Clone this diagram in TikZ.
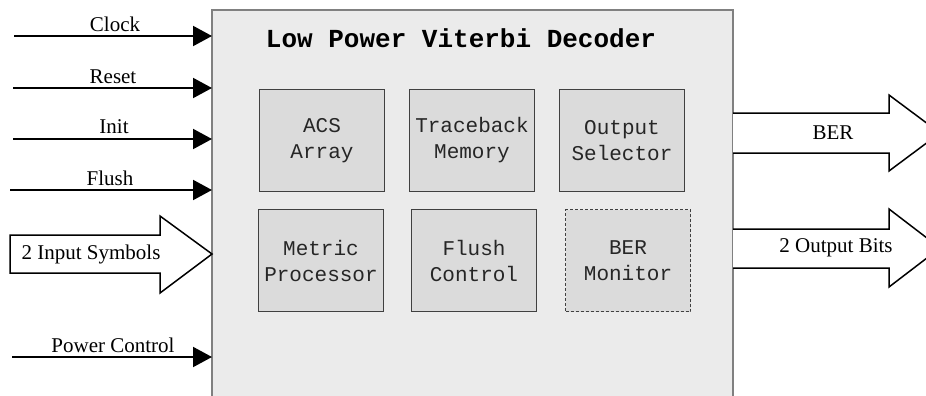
\documentclass[tikz,border=0pt]{standalone}
\usepackage{fontspec}
\setmainfont{Liberation Serif}
\newfontfamily\monofam{Liberation Mono}
\usetikzlibrary{arrows.meta}
\begin{document}
\begin{tikzpicture}[x=1pt,y=-1pt,
 mainbox/.style={draw=black!50, fill=black!8, line width=1.5pt, inner sep=0pt, outer sep=0pt, anchor=north west},
 block/.style={draw=black!75, fill=black!14, line width=1pt, minimum width=125pt, minimum height=102pt, inner sep=0pt, align=center, text=black!85, font=\monofam\fontsize{21}{26}\selectfont, anchor=north west},
 sig/.style={line width=2pt, -{Triangle[length=19pt,width=20pt]}},
 lbl/.style={font=\fontsize{21}{24}\selectfont, anchor=base, inner sep=0pt},
 fat/.style={draw=black, fill=white, line width=1.5pt, line join=miter}
]
\useasboundingbox (0,0) rectangle (926,396);
\node[mainbox, minimum width=521pt, minimum height=400pt] (main) at (212,10) {};
\node[font=\monofam\bfseries\fontsize{26}{30}\selectfont] (title) at (461,38) {Low Power Viterbi Decoder};
% inner blocks
\node[block] (acs) at (259,89) {ACS\\Array};
\node[block] (tb) at (409,89) {Traceback\\Memory};
\node[block] (os) at (559,89) {Output\\Selector};
\node[block] (mp) at (258,209) {Metric\\Processor};
\node[block] (fc) at (411,209) {Flush\\Control};
\node[block, dashed, dash pattern=on 3pt off 2pt] (bm) at (565,209) {BER\\Monitor};
% input signals
\coordinate (clk) at (14,36);
\coordinate (rst) at (13,88);
\coordinate (ini) at (13,139);
\coordinate (fls) at (10,190);
\coordinate (pwr) at (12,357);
\draw[sig] (clk) -- (clk -| main.west);
\draw[sig] (rst) -- (rst -| main.west);
\draw[sig] (ini) -- (ini -| main.west);
\draw[sig] (fls) -- (fls -| main.west);
\draw[sig] (pwr) -- (pwr -| main.west);
\node[lbl] (clkL) at (115,32) {Clock};
\node[lbl] (rstL) at (113,83) {Reset};
\node[lbl] (iniL) at (114,133) {Init};
\node[lbl] (flsL) at (110,185) {Flush};
\node[lbl] (pwrL) at (113,352) {Power Control};
% input block arrow
\coordinate (inTip) at (main.west |- 0,254);
\draw[fat] (10,235) -- (160,235) -- (160,216) -- (inTip) -- (160,293) -- (160,273) -- (10,273) -- cycle;
\node[font=\fontsize{21}{24}\selectfont] (inL) at (91,254) {2 Input Symbols};
% output block arrows
\coordinate (berT) at (main.east |- 0,113);
\coordinate (berB) at (main.east |- 0,153);
\coordinate (outT) at (main.east |- 0,229);
\coordinate (outB) at (main.east |- 0,268);
\filldraw[fat] (berT) -- (889,113) -- (889,95) -- (940,133) -- (889,171) -- (889,153) -- (berB);
\filldraw[fat] (outT) -- (889,229) -- (889,209) -- (940,248) -- (889,287) -- (889,268) -- (outB);
\node[font=\fontsize{21}{24}\selectfont] (berL) at (833,133) {BER};
\node[font=\fontsize{21}{24}\selectfont] (outL) at (836,248) {2 Output Bits};
\end{tikzpicture}
\end{document}
